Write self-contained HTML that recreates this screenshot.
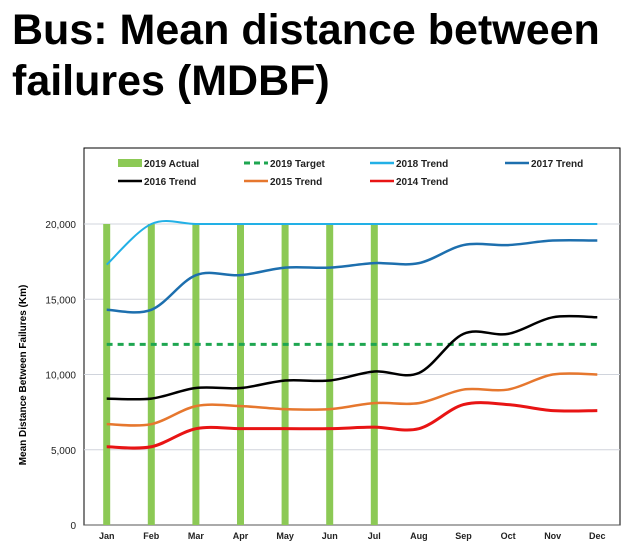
<!DOCTYPE html>
<html><head><meta charset="utf-8"><style>
body{margin:0;background:#fff;width:625px;height:550px;overflow:hidden;font-family:"Liberation Sans",Arial,sans-serif}
h1{position:absolute;left:12px;top:5px;margin:0;font-size:43px;line-height:51px;font-weight:bold;color:#000}
svg{position:absolute;left:0;top:0}
</style></head><body>
<h1>Bus: Mean distance between<br>failures (MDBF)</h1>
<svg id="c" width="625" height="550"></svg>
<script>
const months=["Jan","Feb","Mar","Apr","May","Jun","Jul","Aug","Sep","Oct","Nov","Dec"];
const yTicks=[0,5000,10000,15000,20000];
const yTickLabels=["0","5,000","10,000","15,000","20,000"];
const actual2019=[20000,20000,20000,20000,20000,20000,20000,null,null,null,null,null];
const target2019=[12000,12000,12000,12000,12000,12000,12000,12000,12000,12000,12000,12000];
const trend2018=[17300,20000,20000,20000,20000,20000,20000,20000,20000,20000,20000,20000];
const trend2017=[14300,14300,16600,16600,17100,17100,17400,17400,18600,18600,18900,18900];
const trend2016=[8400,8400,9100,9100,9600,9600,10200,10100,12700,12700,13800,13800];
const trend2015=[6700,6700,7900,7900,7700,7700,8100,8100,9000,9000,10000,10000];
const trend2014=[5200,5200,6400,6400,6400,6400,6500,6400,8000,8000,7600,7600];
const NS="http://www.w3.org/2000/svg";
const svg=document.getElementById('c');
const L=84,R=620,T=148,B=525;
const x=i=>106.7+i*44.6;
const y=v=>B-v*(301/20000);
function mk(t,a,p){const e=document.createElementNS(NS,t);for(const k in a)e.setAttribute(k,a[k]);(p||svg).appendChild(e);return e;}
let e=mk('rect',{x:L,y:T,width:R-L,height:B-T,fill:'#fff',stroke:'#000','stroke-width':1});

yTicks.forEach((v,i)=>{
 if(v>0){const g=mk('line',{x1:L,x2:R,y1:y(v),y2:y(v),stroke:'#d0d4dc','stroke-width':1});
 }
 const t=mk('text',{x:76,y:y(v)+4,'text-anchor':'end','font-size':10,fill:'#222'});t.textContent=yTickLabels[i];
 
});
e=mk('line',{x1:L,x2:R,y1:B,y2:B,stroke:'#555','stroke-width':1});

months.forEach((m,i)=>{const t=mk('text',{x:x(i),y:539,'text-anchor':'middle','font-size':9,'font-weight':'bold',fill:'#222'});t.textContent=m;
 });
e=mk('text',{x:0,y:0,transform:'translate(26,375) rotate(-90)','text-anchor':'middle','font-size':10,'font-weight':'bold',fill:'#000'});
e.textContent='Mean Distance Between Failures (Km)';

actual2019.forEach((v,i)=>{if(v==null)return;const b=mk('rect',{x:x(i)-3.5,y:y(v),width:7,height:B-y(v),fill:'#8cc955'});
 });
function path(arr){const p=arr.map((v,i)=>[x(i),y(v)]);let d='M'+p[0][0]+','+p[0][1];
 for(let i=0;i<p.length-1;i++){const p0=p[i-1]||p[i],p1=p[i],p2=p[i+1],p3=p[i+2]||p2;
  const c1=[p1[0]+(p2[0]-p0[0])/6,p1[1]+(p2[1]-p0[1])/6],c2=[p2[0]-(p3[0]-p1[0])/6,p2[1]-(p3[1]-p1[1])/6];
  d+=` C${c1[0]},${c1[1]} ${c2[0]},${c2[1]} ${p2[0]},${p2[1]}`;}return d;}
const series=[[target2019,'#1ea650',3,'6,5','target-2019-line'],[trend2014,'#e81414',3,null,'trend-2014-line'],[trend2015,'#e6772e',2.5,null,'trend-2015-line'],
 [trend2016,'#000',2.5,null,'trend-2016-line'],[trend2017,'#1d6fae',2.5,null,'trend-2017-line'],[trend2018,'#22b0e6',2,null,'trend-2018-line']];
series.forEach(s=>{const a={d:path(s[0]),fill:'none',stroke:s[1],'stroke-width':s[2]};if(s[3])a['stroke-dasharray']=s[3];
 const pe=mk('path',a);});
const legend=[['2019 Actual',118,163,'bar'],['2019 Target',244,163,'#1ea650'],['2018 Trend',370,163,'#22b0e6'],['2017 Trend',505,163,'#1d6fae'],
 ['2016 Trend',118,181,'#000'],['2015 Trend',244,181,'#e6772e'],['2014 Trend',370,181,'#e81414']];
legend.forEach(l=>{const g=mk('g',{});
 if(l[3]==='bar')mk('rect',{x:l[1],y:l[2]-4,width:24,height:8,fill:'#8cc955'},g);
 else if(l[0]==='2019 Target')mk('line',{x1:l[1],x2:l[1]+24,y1:l[2],y2:l[2],stroke:l[3],'stroke-width':3,'stroke-dasharray':'6,4'},g);
 else mk('line',{x1:l[1],x2:l[1]+24,y1:l[2],y2:l[2],stroke:l[3],'stroke-width':2.5},g);
 const t=mk('text',{x:l[1]+26,y:l[2]+4,'font-size':10,'font-weight':'bold',fill:'#222'},g);t.textContent=l[0];});
</script>
</body></html>
